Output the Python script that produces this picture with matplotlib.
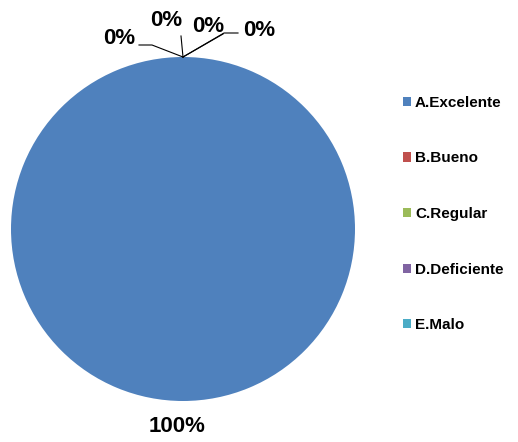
import matplotlib.pyplot as plt
from matplotlib.patches import Patch

categories = ['A.Excelente', 'B.Bueno', 'C.Regular', 'D.Deficiente', 'E.Malo']
values = [100, 0, 0, 0, 0]
colors = ['#4F81BD', '#C0504D', '#9BBB59', '#8064A2', '#4BACC6']

plt.rcParams['font.family'] = ['Liberation Sans', 'DejaVu Sans']

W, H = 518, 442
fig = plt.figure(figsize=(W / 100, H / 100), dpi=100)
cx, cy, r = 183, 229, 172
ax = fig.add_axes([(cx - r) / W, (H - cy - r) / H, 2 * r / W, 2 * r / H])

ax.pie(values, colors=colors, startangle=90, counterclock=False,
       wedgeprops=dict(linewidth=0))
ax.set_xlim(-1, 1)
ax.set_ylim(-1, 1)
ax.set_aspect('equal')
ax.axis('off')


def px(x, y):
    return ((x - cx) / r, (cy - y) / r)


total = sum(values)
pct = [f'{v / total * 100:.0f}%' for v in values]

# 100% label below the pie
ax.text(*px(177, 427), pct[0], ha='center', va='center',
        fontsize=16, fontweight='bold', clip_on=False)

# zero labels at the top with leader lines
top = px(183, 57)
lab_pos = [(119, 38), (166, 20), (208, 26), (259, 30)]
elbows = [[(139, 45), (152, 45)], [(181, 36)], [(223, 34)], [(238, 33), (224, 33)]]
for i, (p, el) in enumerate(zip(lab_pos, elbows)):
    ax.text(*px(*p), pct[i + 1], ha='center', va='center',
            fontsize=16, fontweight='bold', clip_on=False)
    pts = [px(*e) for e in el] + [top]
    ax.plot([q[0] for q in pts], [q[1] for q in pts], color='black',
            linewidth=0.8, clip_on=False)

handles = [Patch(facecolor=c, edgecolor='none') for c in colors]
fig.legend(handles, categories, loc='center left',
           bbox_to_anchor=(389 / W, 1 - 214 / H), frameon=False,
           prop=dict(size=11, weight='bold'), labelspacing=2.72,
           handlelength=0.55, handleheight=0.55, handletextpad=0.25)

fig.savefig('out.png', dpi=100)
